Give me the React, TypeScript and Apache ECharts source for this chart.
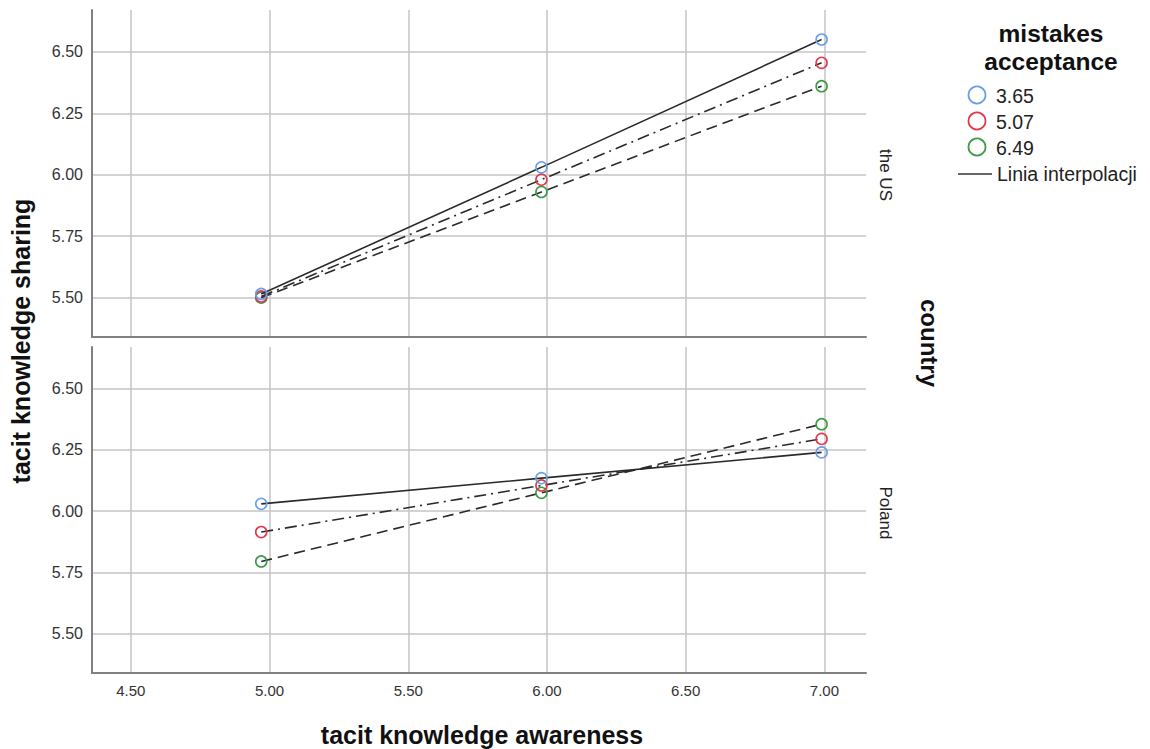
import React, { useEffect, useRef } from "react";
import * as echarts from "echarts";

const xValues = [4.97, 5.98, 6.99];
const xTicks = [4.5, 5.0, 5.5, 6.0, 6.5, 7.0];
const yTicks = [5.5, 5.75, 6.0, 6.25, 6.5];
const groups = ["3.65", "5.07", "6.49"];
const panels = ["the US", "Poland"];
const usValues = [
  [5.515, 6.03, 6.55],
  [5.505, 5.98, 6.455],
  [5.5, 5.93, 6.36],
];
const polandValues = [
  [6.03, 6.135, 6.24],
  [5.915, 6.105, 6.295],
  [5.795, 6.075, 6.355],
];

const colors = ["#6b9ee8", "#e2384f", "#3e9a46"];
const dashes: any[] = ["solid", [12, 5, 2, 5], [11, 6]];

export default function App() {
  const ref = useRef<HTMLDivElement>(null);
  useEffect(() => {
    const chart = echarts.init(ref.current!, null, { renderer: "svg" });
    const fmt = (v: number) => v.toFixed(2);
    const font = "Liberation Sans, Arial, sans-serif";
    const gridLeft = 92;
    const gridW = 774;
    const grids = [
      { left: gridLeft, top: 10, width: gridW, height: 327 },
      { left: gridLeft, top: 347, width: gridW, height: 326 },
    ];
    const axisLineStyle = { color: "#808080", width: 2 };
    const splitLineStyle = { color: "#c4c4c4", width: 1.5 };
    const xAxis = [0, 1].map((i) => ({
      type: "value",
      gridIndex: i,
      min: 4.36,
      max: 7.15,
      axisLine: { show: true, onZero: false, lineStyle: axisLineStyle },
      axisTick: { show: false, customValues: xTicks },
      axisLabel: {
        show: i === 1,
        customValues: xTicks,
        formatter: fmt,
        color: "#333",
        fontSize: 15,
        fontFamily: font,
        margin: 10,
      },
      splitLine: { show: true, lineStyle: splitLineStyle },
    }));
    const yAxis = [0, 1].map((i) => ({
      type: "value",
      gridIndex: i,
      min: 5.34,
      max: 6.67,
      axisLine: { show: true, onZero: false, lineStyle: axisLineStyle },
      axisTick: { show: false, customValues: yTicks },
      axisLabel: {
        customValues: yTicks,
        formatter: fmt,
        color: "#333",
        fontSize: 16,
        fontFamily: font,
        margin: 9,
      },
      splitLine: { show: true, lineStyle: splitLineStyle },
    }));
    const series: any[] = [];
    [usValues, polandValues].forEach((panel, pi) => {
      panel.forEach((vals, gi) => {
        series.push({
          type: "line",
          name: `${panels[pi]} ${groups[gi]}`,
          xAxisIndex: pi,
          yAxisIndex: pi,
          data: vals.map((v, k) => [xValues[k], v]),
          symbol: "circle",
          symbolSize: 11,
          itemStyle: {
            color: "rgba(255,255,255,0)",
            borderColor: colors[gi],
            borderWidth: 1.6,
          },
          lineStyle: { color: "#2a2a2a", width: 1.6, type: dashes[gi] },
          z: 3 - gi,
        });
      });
    });
    const legendItems: any[] = groups.map((g, i) => ({
      type: "group",
      children: [
        {
          type: "circle",
          shape: { cx: 977, cy: 95 + i * 26, r: 8.5 },
          style: { fill: "none", stroke: colors[i], lineWidth: 1.8 },
        },
        {
          type: "text",
          x: 996,
          y: 96 + i * 26,
          style: { text: g, fill: "#222", fontSize: 19.5, fontFamily: font, textVerticalAlign: "middle" },
        },
      ],
    }));
    chart.setOption({
      animation: false,
      backgroundColor: "#ffffff",
      grid: grids,
      xAxis,
      yAxis,
      series,
      graphic: [
        {
          type: "text",
          x: 482,
          y: 735,
          style: { text: "tacit knowledge awareness", fill: "#111", fontSize: 25, fontWeight: "bold", fontFamily: font, textAlign: "center", textVerticalAlign: "middle" },
        },
        {
          type: "text",
          x: 21,
          y: 341,
          rotation: Math.PI / 2,
          style: { text: "tacit knowledge sharing", fill: "#111", fontSize: 25, fontWeight: "bold", fontFamily: font, textAlign: "center", textVerticalAlign: "middle" },
        },
        {
          type: "text",
          x: 929,
          y: 343,
          rotation: -Math.PI / 2,
          style: { text: "country", fill: "#111", fontSize: 24, fontWeight: "bold", fontFamily: font, textAlign: "center", textVerticalAlign: "middle" },
        },
        {
          type: "text",
          x: 885,
          y: 175,
          rotation: -Math.PI / 2,
          style: { text: panels[0], fill: "#222", fontSize: 17, fontFamily: font, textAlign: "center", textVerticalAlign: "middle" },
        },
        {
          type: "text",
          x: 885,
          y: 513,
          rotation: -Math.PI / 2,
          style: { text: panels[1], fill: "#222", fontSize: 17, fontFamily: font, textAlign: "center", textVerticalAlign: "middle" },
        },
        {
          type: "text",
          x: 1051,
          y: 33,
          style: { text: "mistakes", fill: "#111", fontSize: 24.5, fontWeight: "bold", fontFamily: font, textAlign: "center", textVerticalAlign: "middle" },
        },
        {
          type: "text",
          x: 1051,
          y: 61,
          style: { text: "acceptance", fill: "#111", fontSize: 24.5, fontWeight: "bold", fontFamily: font, textAlign: "center", textVerticalAlign: "middle" },
        },
        ...legendItems,
        {
          type: "line",
          shape: { x1: 958, y1: 174, x2: 992, y2: 174 },
          style: { stroke: "#333", lineWidth: 1.6 },
        },
        {
          type: "text",
          x: 997,
          y: 174,
          style: { text: "Linia interpolacji", fill: "#222", fontSize: 19.5, fontFamily: font, textVerticalAlign: "middle" },
        },
      ],
    });
    return () => chart.dispose();
  }, []);
  return (
    <div
      ref={ref}
      style={{ position: "fixed", left: 0, top: 0, width: 1150, height: 749 }}
    />
  );
}
